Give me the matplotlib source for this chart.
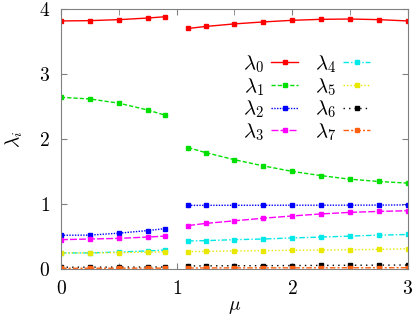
import matplotlib
matplotlib.use('Agg')
import matplotlib.pyplot as plt
from matplotlib.ticker import FixedLocator, MultipleLocator

plt.rcParams['mathtext.fontset'] = 'cm'
plt.rcParams['font.family'] = 'serif'
plt.rcParams['font.serif'] = ['DejaVu Serif']

# mu values, two separate branches
mu_a = [0.0, 0.25, 0.5, 0.75, 0.9]
mu_b = [1.1, 1.25, 1.5, 1.75, 2.0, 2.25, 2.5, 2.75, 3.0]

# eigenvalues on branch a (mu<1) and branch b (mu>1)
lam0_a = [3.815, 3.82, 3.835, 3.86, 3.88]
lam0_b = [3.70, 3.73, 3.77, 3.80, 3.825, 3.84, 3.845, 3.835, 3.815]
lam1_a = [2.64, 2.615, 2.55, 2.445, 2.365]
lam1_b = [1.866, 1.79, 1.68, 1.585, 1.50, 1.435, 1.38, 1.345, 1.32]
lam2_a = [0.518, 0.52, 0.55, 0.59, 0.62]
lam2_b = [0.978, 0.978, 0.979, 0.979, 0.98, 0.98, 0.981, 0.982, 0.985]
lam3_a = [0.45, 0.46, 0.47, 0.49, 0.505]
lam3_b = [0.667, 0.70, 0.74, 0.78, 0.815, 0.846, 0.87, 0.885, 0.895]
lam4_a = [0.246, 0.246, 0.26, 0.277, 0.29]
lam4_b = [0.43, 0.435, 0.45, 0.46, 0.477, 0.49, 0.505, 0.52, 0.53]
lam5_a = [0.246, 0.246, 0.252, 0.258, 0.262]
lam5_b = [0.266, 0.27, 0.277, 0.28, 0.287, 0.29, 0.295, 0.30, 0.31]
lam6_a = [0.026, 0.027, 0.028, 0.029, 0.03]
lam6_b = [0.046, 0.047, 0.049, 0.05, 0.052, 0.054, 0.056, 0.058, 0.06]
lam7_a = [0.01, 0.01, 0.011, 0.012, 0.012]
lam7_b = [0.015, 0.015, 0.016, 0.016, 0.017, 0.017, 0.018, 0.018, 0.019]

series = [(lam0_a, lam0_b), (lam1_a, lam1_b), (lam2_a, lam2_b), (lam3_a, lam3_b),
          (lam4_a, lam4_b), (lam5_a, lam5_b), (lam6_a, lam6_b), (lam7_a, lam7_b)]
colors = ['#ff0000', '#00e000', '#0000ff', '#ff00ff', '#00e8e8', '#e8e800', '#000000', '#ff6010']
styles = ['-', (0, (3, 1.5)), (0, (1, 1)), (0, (5, 1.5)), (0, (4, 1.5, 1, 1.5)),
          (0, (1, 1.5)), (0, (1, 3)), (0, (4, 1.5, 1.5, 1.5))]

fig = plt.figure(figsize=(4.15, 3.19), dpi=100)
ax = fig.add_axes([0.147, 0.157, 0.836, 0.815])

for i, (ya, yb) in enumerate(series):
    kw = dict(color=colors[i], linestyle=styles[i], lw=1.0, marker='s', ms=2.3)
    ax.plot(mu_a, ya, label=r'$\lambda_{%d}$' % i, **kw)
    ax.plot(mu_b, yb, **kw)

ax.set_xlim(0, 3)
ax.set_ylim(0, 4)
ax.xaxis.set_major_locator(FixedLocator([0, 1, 2, 3]))
ax.xaxis.set_minor_locator(MultipleLocator(0.5))
ax.set_xticklabels(['$0$', '$1$', '$2$', '$3$'], fontsize=14)
ax.yaxis.set_major_locator(FixedLocator([0, 1, 2, 3, 4]))
ax.set_yticklabels(['$0$', '$1$', '$2$', '$3$', '$4$'], fontsize=14)
ax.tick_params(which='both', direction='in', top=True, right=True, color='#808080')
ax.tick_params(which='major', length=4)
ax.tick_params(which='minor', length=4)
ax.tick_params(axis='y', pad=8)
ax.tick_params(axis='x', pad=8)
for s in ax.spines.values():
    s.set_color('#808080')

ax.set_xlabel(r'$\mu$', fontsize=14, labelpad=0)
ax.set_ylabel(r'$\lambda_i$', fontsize=14, labelpad=10)

ax.legend(ncol=2, frameon=False, markerfirst=False, fontsize=15,
          loc='upper left', bbox_to_anchor=(0.5, 0.86), handlelength=1.3,
          handletextpad=0.35, columnspacing=0.8, labelspacing=0.05,
          borderaxespad=0)

fig.savefig('out.png', dpi=100)
